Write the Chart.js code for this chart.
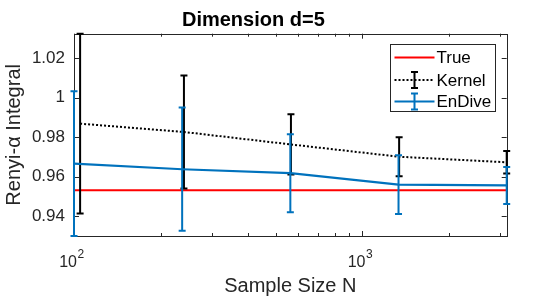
<!DOCTYPE html>
<html>
<head>
<meta charset="utf-8">
<script src="https://cdn.jsdelivr.net/npm/chart.js@4/dist/chart.umd.min.js"></script>
<style>
  html, body { margin: 0; padding: 0; background: #fff; }
  #wrap { width: 560px; height: 300px; }
</style>
</head>
<body>
<div id="wrap"><canvas id="chart" width="560" height="300"></canvas></div>
<script>
// ─── Data ────────────────────────────────────────────────────────────────
const sampleSizes = [100, 237.1, 562.3, 1333.5, 3162.3];
const kernelSizes = [105, 240.5, 565, 1340, 3162.3];
const trueValues  = [0.9532, 0.9532, 0.9532, 0.9532, 0.9532];
const kernelMean  = [0.9868, 0.9826, 0.9763, 0.9701, 0.9673];
const kernelErr   = [0.0454, 0.0285, 0.0152, 0.0099, 0.0057];
const endiveMean  = [0.9666, 0.9638, 0.9618, 0.9560, 0.9556];
const endiveErr   = [0.0365, 0.0311, 0.0197, 0.0148, 0.0093];

const xTickValues = [100, 200, 300, 400, 500, 600, 700, 800, 900, 1000, 2000, 3000];
const xTickExponents = { 100: '2', 1000: '3' };
const yTickValues = [0.94, 0.96, 0.98, 1, 1.02];

const FONT = "'Liberation Sans', Arial, sans-serif";
const AXIS_COLOR = '#262626';
const CAP = 3.5;

const toPoints = (xs, vals) => vals.map((v, i) => ({ x: xs[i], y: v }));

// ─── Plugins ─────────────────────────────────────────────────────────────

/** Vertical error bars, drawn right after their own dataset. */
const errorBarPlugin = {
    id: 'errorBars',
    afterDatasetDraw(chart, args) {
        const ds = chart.data.datasets[args.index];
        if (!ds.errors) return;
        const { ctx, scales: { x, y } } = chart;
        ctx.save();
        ctx.strokeStyle = ds.borderColor;
        ctx.lineWidth = 2;
        ctx.setLineDash([]);
        ds.data.forEach((p, i) => {
            const px = x.getPixelForValue(p.x);
            const top = y.getPixelForValue(p.y + ds.errors[i]);
            const bot = y.getPixelForValue(p.y - ds.errors[i]);
            ctx.beginPath();
            ctx.moveTo(px, top); ctx.lineTo(px, bot);
            ctx.moveTo(px - CAP, top); ctx.lineTo(px + CAP, top);
            ctx.moveTo(px - CAP, bot); ctx.lineTo(px + CAP, bot);
            ctx.stroke();
        });
        ctx.restore();
    }
};

/** MATLAB-style box with inward ticks on all four sides, plus 10^n labels.
 *  Drawn before the data so the lines and bars sit on top of it. */
const boxPlugin = {
    id: 'axesBox',
    beforeDatasetsDraw(chart) {
        const { ctx, chartArea: a, scales: { x, y } } = chart;
        ctx.save();
        ctx.strokeStyle = AXIS_COLOR;
        ctx.lineWidth = 1;
        ctx.beginPath();
        x.ticks.forEach(t => {
            const px = Math.round(x.getPixelForValue(t.value)) + 0.5;
            const len = t.major ? 5 : 3;
            ctx.moveTo(px, a.bottom); ctx.lineTo(px, a.bottom - len);
            ctx.moveTo(px, a.top); ctx.lineTo(px, a.top + len);
        });
        y.ticks.forEach(t => {
            const py = Math.round(y.getPixelForValue(t.value)) + 0.5;
            ctx.moveTo(a.left, py); ctx.lineTo(a.left + 5, py);
            ctx.moveTo(a.right, py); ctx.lineTo(a.right - 5, py);
        });
        ctx.stroke();
        ctx.strokeRect(Math.round(a.left) + 0.5, Math.round(a.top) + 0.5,
                       Math.round(a.right - a.left), Math.round(a.bottom - a.top));

        // log tick labels with a raised exponent
        ctx.fillStyle = AXIS_COLOR;
        ctx.textBaseline = 'alphabetic';
        x.ticks.forEach(t => {
            const exp = xTickExponents[t.value];
            if (!exp) return;
            const px = x.getPixelForValue(t.value);
            ctx.font = `16px ${FONT}`;
            ctx.textAlign = 'right';
            ctx.fillText('10', px + 3, a.bottom + 31);
            ctx.font = `12px ${FONT}`;
            ctx.textAlign = 'left';
            ctx.fillText(exp, px + 3.5, a.bottom + 22);
        });
        ctx.restore();
    }
};

/** Legend box with line / errorbar glyphs. */
const legendPlugin = {
    id: 'matLegend',
    afterDraw(chart) {
        const { ctx, chartArea: a } = chart;
        const w = 105, h = 67;
        const lx = Math.round(a.right - 11.5 - w) + 0.5;
        const ly = Math.round(a.top + 10) + 0.5;
        ctx.save();
        ctx.fillStyle = '#fff';
        ctx.fillRect(lx, ly, w, h);
        ctx.strokeStyle = AXIS_COLOR;
        ctx.lineWidth = 1;
        ctx.strokeRect(lx, ly, w, h);

        const rows = [13, 35.5, 57];
        chart.data.datasets.forEach((ds, i) => {
            const ry = ly + rows[i];
            ctx.strokeStyle = ds.borderColor;
            ctx.lineWidth = 2;
            ctx.setLineDash(ds.borderDash || []);
            ctx.beginPath();
            ctx.moveTo(lx + 4, ry); ctx.lineTo(lx + 44, ry);
            ctx.stroke();
            ctx.setLineDash([]);
            if (ds.errors) {
                const cx = lx + 24;
                ctx.beginPath();
                ctx.moveTo(cx, ry - 8); ctx.lineTo(cx, ry + 8);
                ctx.moveTo(cx - CAP, ry - 8); ctx.lineTo(cx + CAP, ry - 8);
                ctx.moveTo(cx - CAP, ry + 8); ctx.lineTo(cx + CAP, ry + 8);
                ctx.stroke();
            }
            ctx.fillStyle = '#000';
            ctx.font = `17px ${FONT}`;
            ctx.textBaseline = 'middle';
            ctx.fillText(ds.label, lx + 46, ry + 1);
        });
        ctx.restore();
    }
};

// ─── Chart ───────────────────────────────────────────────────────────────
new Chart(document.getElementById('chart'), {
    type: 'line',
    data: {
        datasets: [
            {
                label: 'True',
                data: toPoints(sampleSizes, trueValues),
                borderColor: '#ff0000',
                borderWidth: 2.2,
                pointRadius: 0,
                order: 3
            },
            {
                label: 'Kernel',
                data: toPoints(kernelSizes, kernelMean),
                errors: kernelErr,
                borderColor: '#000000',
                borderWidth: 2,
                borderDash: [2, 2],
                pointRadius: 0,
                order: 2
            },
            {
                label: 'EnDive',
                data: toPoints(sampleSizes, endiveMean),
                errors: endiveErr,
                borderColor: '#0072bd',
                borderWidth: 2.2,
                pointRadius: 0,
                order: 1
            }
        ]
    },
    options: {
        responsive: false,
        animation: false,
        layout: { padding: { left: 0, right: 53.3, top: 0, bottom: 0 } },
        plugins: {
            legend: { display: false },
            tooltip: { enabled: false },
            title: {
                display: true,
                text: 'Dimension d=5',
                color: '#000',
                font: { family: FONT, size: 20, weight: 'bold' },
                padding: { top: 8.5, bottom: 1.2 }
            }
        },
        scales: {
            x: {
                type: 'logarithmic',
                min: 100,
                max: 3162.3,
                grid: { display: false, drawTicks: false },
                border: { display: false },
                afterBuildTicks: (scale) => {
                    scale.ticks = xTickValues.map(v => ({ value: v, major: v in xTickExponents }));
                },
                afterFit: (scale) => { scale.height = 64; },
                ticks: {
                    autoSkip: false,
                    maxRotation: 0,
                    padding: 15,
                    color: AXIS_COLOR,
                    font: { family: FONT, size: 16 },
                    callback: () => ''
                },
                title: {
                    display: true,
                    text: 'Sample Size N',
                    color: AXIS_COLOR,
                    font: { family: FONT, size: 20 },
                    padding: { top: 0, bottom: 2 }
                }
            },
            y: {
                min: 0.9301,
                max: 1.0322,
                grid: { display: false, drawTicks: false },
                border: { display: false },
                afterBuildTicks: (scale) => {
                    scale.ticks = yTickValues.map(v => ({ value: v }));
                },
                afterFit: (scale) => { scale.width = 74; },
                ticks: {
                    padding: 9,
                    color: AXIS_COLOR,
                    font: { family: FONT, size: 17 },
                    callback: (val) => String(+val.toFixed(2))
                },
                title: {
                    display: true,
                    text: 'Renyi-α Integral',
                    color: AXIS_COLOR,
                    font: { family: FONT, size: 20 },
                    padding: { top: 2, bottom: 0 }
                }
            }
        }
    },
    plugins: [errorBarPlugin, boxPlugin, legendPlugin]
});
</script>
</body>
</html>
